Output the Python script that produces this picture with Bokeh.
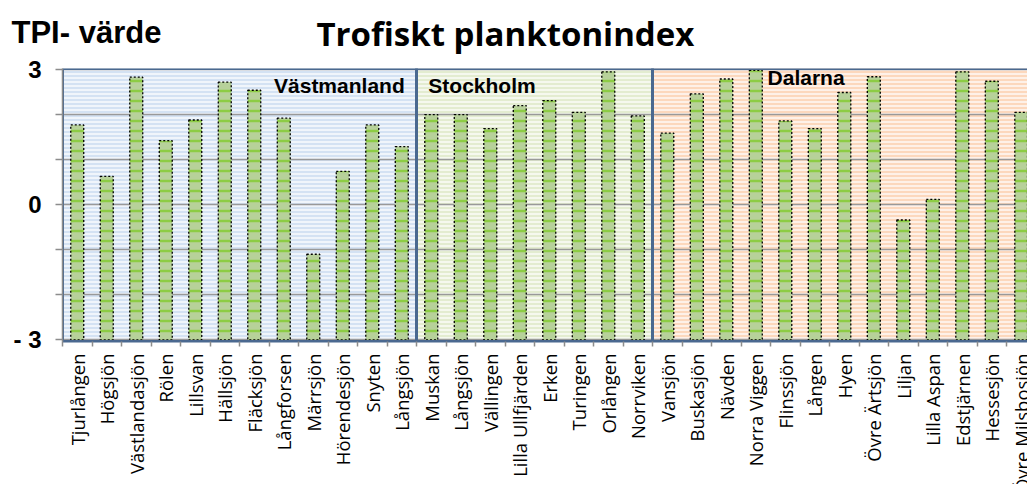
import math
from bokeh.plotting import figure
from bokeh.layouts import column
from bokeh.models import FixedTicker, Label, Range1d
from bokeh.core.properties import value
from bokeh.embed import file_html
from bokeh.resources import INLINE

# ---- data ----
regions = ["Västmanland", "Stockholm", "Dalarna"]
vastmanland_lakes = ["Tjurlången", "Högsjön", "Västlandasjön", "Rölen", "Lillsvan", "Hällsjön",
                     "Fläcksjön", "Långforsen", "Märrsjön", "Hörendesjön", "Snyten", "Långsjön"]
vastmanland_tpi = [1.77, 0.63, 2.83, 1.42, 1.88, 2.72, 2.54, 1.92, -1.10, 0.74, 1.77, 1.29]
stockholm_lakes = ["Muskan", "Långsjön", "Vällingen", "Lilla Ullfjärden", "Erken", "Turingen",
                   "Orlången", "Norrviken"]
stockholm_tpi = [2.00, 2.00, 1.69, 2.20, 2.31, 2.05, 2.95, 1.97]
dalarna_lakes = ["Vansjön", "Buskasjön", "Nävden", "Norra Viggen", "Flinssjön", "Lången", "Hyen",
                 "Övre Ärtsjön", "Liljan", "Lilla Aspan", "Edstjärnen", "Hessesjön", "Övre Milsbosjön"]
dalarna_tpi = [1.59, 2.46, 2.79, 2.98, 1.86, 1.69, 2.49, 2.84, -0.34, 0.12, 2.95, 2.74, 2.05]
y_ticks = [-3, -2, -1, 0, 1, 2, 3]
y_tick_labels = {3: "3", 0: "0", -3: "- 3"}
y_axis_title = "TPI- värde"
chart_title = "Trofiskt planktonindex"

lakes = vastmanland_lakes + stockholm_lakes + dalarna_lakes
tpi = vastmanland_tpi + stockholm_tpi + dalarna_tpi
n = len(lakes)
centers = [i + 0.5 for i in range(n)]
sizes = [len(vastmanland_lakes), len(stockholm_lakes), len(dalarna_lakes)]
bounds = [0]
for s in sizes:
    bounds.append(bounds[-1] + s)

W = 1027
HEAD_H = 55
FOOT_H = 131
MAIN_TOP, MAIN_BOTTOM = 13, 12
FRAME_H = 273
LEFT = 62

xr = Range1d(0, 32.71)

# ---- header (titles) ----
head = figure(width=W, height=HEAD_H, output_backend="svg", toolbar_location=None, title=None,
              x_range=(0, W), y_range=(0, HEAD_H), x_axis_location=None, y_axis_location=None,
              min_border=0)
head.frame_align = False
head.outline_line_color = None
head.grid.grid_line_color = None
head.text(x=[11], y=[HEAD_H - 31.5], text=[y_axis_title], text_font=value("Liberation Sans"),
          text_font_style="bold", text_font_size="31px", text_color="black",
          text_baseline="middle", text_align="left")
head.text(x=[316], y=[HEAD_H - 32.5], text=[chart_title], text_font=value("Open Sans"),
          text_font_style="bold", text_font_size="33px", text_color="black",
          text_baseline="middle", text_align="left")

# ---- main chart ----
Y0, Y1 = -3.037, 3.023
p = figure(width=W, height=MAIN_TOP + FRAME_H + MAIN_BOTTOM, output_backend="svg",
           toolbar_location=None, title=None, x_range=xr, y_range=(Y0, Y1),
           min_border_left=LEFT, min_border_right=0, min_border_top=MAIN_TOP,
           min_border_bottom=MAIN_BOTTOM)
p.outline_line_color = None

fills = ["#d4e2f3", "#e3ecd0", "#fcd8bd"]
p.quad(left=bounds[:-1], right=bounds[1:], bottom=Y0, top=Y1, fill_color=fills,
       line_color=None, hatch_pattern="horizontal_line", hatch_color="white",
       hatch_scale=4, hatch_weight=1.3, level="image")

p.vbar(x=centers, width=0.44, bottom=-3, top=tpi, fill_color="#b7d19a",
       hatch_pattern="horizontal_line", hatch_color="#8dcc45", hatch_scale=10, hatch_weight=2.5,
       line_color="black", line_dash="2 2", line_width=1.3)

p.quad(left=bounds[:-1], right=bounds[1:], bottom=Y0, top=Y1, fill_color=None,
       line_color="#4a6990", line_width=3)

p.xgrid.grid_line_color = None
p.ygrid.ticker = FixedTicker(ticks=y_ticks)
p.ygrid.grid_line_color = "#999999"
p.ygrid.grid_line_width = 1.6

ya = p.yaxis[0]
ya.ticker = FixedTicker(ticks=y_ticks)
ya.major_label_overrides = {t: y_tick_labels.get(t, "") for t in y_ticks}
ya.major_label_text_font = "Liberation Sans"
ya.major_label_text_font_style = "bold"
ya.major_label_text_font_size = "24px"
ya.major_label_text_color = "black"
ya.major_label_standoff = 14
ya.major_tick_out = 7
ya.major_tick_in = 0
ya.minor_tick_line_color = None
ya.axis_line_color = "#8c8c8c"
ya.axis_line_width = 1.5
ya.major_tick_line_color = "#8c8c8c"
ya.major_tick_line_width = 1.5

xa = p.xaxis[0]
xa.ticker = FixedTicker(ticks=[], minor_ticks=list(range(bounds[-1] + 1)))
xa.major_label_text_font_size = "0px"
xa.major_label_standoff = 0
xa.major_tick_out = 0
xa.major_tick_in = 0
xa.minor_tick_out = 5
xa.minor_tick_in = 0
xa.minor_tick_line_color = "#8c8c8c"
xa.minor_tick_line_width = 1.5
xa.axis_line_color = "#4a6990"
xa.axis_line_width = 2

label_style = dict(text_font="Liberation Sans", text_font_style="bold", text_font_size="21px",
                   text_color="black")
p.add_layout(Label(x=bounds[1] - 0.4, y=2.40, text=regions[0], text_align="right", **label_style))
p.add_layout(Label(x=bounds[1] + 0.4, y=2.40, text=regions[1], text_align="left", **label_style))
p.add_layout(Label(x=bounds[2] + 3.9, y=2.57, text=regions[2], text_align="left", **label_style))

# ---- footer (category labels) ----
foot = figure(width=W, height=FOOT_H, output_backend="svg", toolbar_location=None, title=None,
              x_range=xr, y_range=(0, FOOT_H), x_axis_location=None, y_axis_location=None,
              min_border_left=LEFT, min_border_right=0, min_border_top=0, min_border_bottom=0)
foot.outline_line_color = None
foot.grid.grid_line_color = None
foot.text(x=centers, y=FOOT_H, text=lakes, angle=math.pi / 2, text_align="right",
          text_baseline="middle", text_font=value("Open Sans"), text_font_size="18.5px",
          text_color="black")

layout = column(head, p, foot, spacing=0)
open("out.html", "w").write(file_html(layout, INLINE))
